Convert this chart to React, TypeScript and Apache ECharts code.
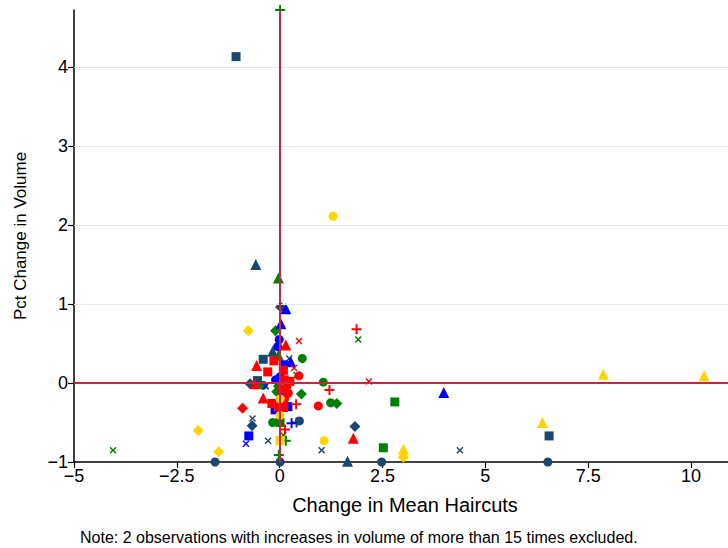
import React, { useEffect, useRef } from "react";
import * as echarts from "echarts";

// ---- data: [change in mean haircuts, pct change in volume] ----
const navyCircle = [[0.48, -0.48], [-1.57, -1.0], [0.01, -1.0], [2.48, -1.0], [6.52, -1.0]];
const navyDiamond = [[0.02, 0.96], [-0.72, -0.01], [-0.67, -0.54], [1.83, -0.55]];
const navyTriangle = [[-0.58, 1.5], [-0.17, 0.4], [1.65, -0.99]];
const navySquare = [[-1.06, 4.13], [-0.4, 0.3], [-0.54, 0.03], [6.55, -0.67]];
const navyPlus = [[0.41, -0.5]];
const navyX = [[0.23, 0.31], [-0.66, -0.45], [-0.28, -0.73], [1.02, -0.85], [4.38, -0.85]];

const greenCircle = [[0.55, 0.31], [-0.4, -0.03], [1.06, 0.01], [1.24, -0.25], [-0.17, -0.5]];
const greenDiamond = [[-0.1, 0.66], [-0.03, -0.04], [-0.07, -0.11], [0.53, -0.14], [1.39, -0.26]];
const greenTriangle = [[-0.03, 1.33], [-0.03, 0.35]];
const greenSquare = [[0.01, -0.5], [2.8, -0.24], [2.52, -0.82]];
const greenPlus = [[0.01, 4.72], [0.15, -0.73], [-0.02, -0.91]];
const greenX = [[1.91, 0.55], [-4.05, -0.85], [0.09, -0.66], [0.41, 0.1]];

const blueCircle = [[-0.01, 0.55], [-0.05, 0.46], [0.01, 0.08], [-0.1, 0.04], [0.05, -0.18]];
const blueTriangle = [[0.15, 0.94], [0.03, 0.75], [0.27, 0.27], [3.99, -0.12]];
const blueSquare = [[0.09, 0.23], [-0.75, -0.67], [-0.11, -0.34], [0.2, -0.3]];
const bluePlus = [[0.29, -0.51]];
const blueX = [[-0.34, -0.04], [-0.82, -0.77]];

const redCircle = [[0.47, 0.09], [0.17, -0.05], [0.21, -0.13], [0.94, -0.29], [0.12, -0.2]];
const redDiamond = [[-0.9, -0.32]];
const redTriangle = [[0.15, 0.48], [-0.56, 0.22], [-0.6, -0.01], [-0.4, -0.19], [1.79, -0.7]];
const redSquare = [[-0.14, 0.28], [0.09, 0.16], [-0.29, 0.14], [0.11, 0.04], [0.25, 0.02], [-0.19, -0.26], [-0.03, -0.3], [0.1, -0.31], [0.05, -0.08]];
const redPlus = [[1.87, 0.68], [1.21, -0.09], [0.4, -0.27], [0.13, -0.59]];
const redX = [[0.47, 0.53], [0.35, 0.19], [2.17, 0.02]];

const yellowCircle = [[1.3, 2.11], [0.01, -0.2], [0.01, -0.41], [1.08, -0.73]];
const yellowDiamond = [[-0.76, 0.66], [-1.98, -0.6], [-1.48, -0.87], [3.01, -0.94]];
const yellowTriangle = [[7.87, 0.11], [10.32, 0.09], [6.39, -0.5], [3.01, -0.84]];
const yellowSquare = [[0.01, -0.73]];

const xTicks = [-5, -2.5, 0, 2.5, 5, 7.5, 10];
const yTicks = [-1, 0, 1, 2, 3, 4];
const gridValues = [1, 2, 3, 4];

const NAVY = "#1a476f";
const GREEN = "#008000";
const BLUE = "#0000ff";
const RED = "#ff0000";
const YELLOW = "#ffd400";
const REFLINE = "#d41f45";

const PLUS = "path://M4,0h2v4h4v2h-4v4h-2v-4h-4v-2h4z";
const XMARK = "path://M1.4,0L5,3.6L8.6,0L10,1.4L6.4,5L10,8.6L8.6,10L5,6.4L1.4,10L0,8.6L3.6,5L0,1.4Z";

const shapes: Record<string, [string, number]> = {
  circle: ["circle", 9],
  diamond: ["diamond", 11],
  triangle: ["triangle", 11],
  square: ["rect", 9],
  plus: [PLUS, 10],
  x: [XMARK, 7],
};

const groups: [string, string, number[][]][] = [
  [NAVY, "circle", navyCircle], [NAVY, "diamond", navyDiamond], [NAVY, "triangle", navyTriangle],
  [NAVY, "square", navySquare], [NAVY, "plus", navyPlus], [NAVY, "x", navyX],
  [GREEN, "circle", greenCircle], [GREEN, "diamond", greenDiamond], [GREEN, "triangle", greenTriangle],
  [GREEN, "square", greenSquare], [GREEN, "plus", greenPlus], [GREEN, "x", greenX],
  [BLUE, "circle", blueCircle], [BLUE, "triangle", blueTriangle], [BLUE, "square", blueSquare],
  [BLUE, "plus", bluePlus], [BLUE, "x", blueX],
  [RED, "circle", redCircle], [RED, "diamond", redDiamond], [RED, "triangle", redTriangle],
  [RED, "square", redSquare], [RED, "plus", redPlus], [RED, "x", redX],
  [YELLOW, "circle", yellowCircle], [YELLOW, "diamond", yellowDiamond], [YELLOW, "triangle", yellowTriangle],
  [YELLOW, "square", yellowSquare],
];

const FONT = "'Liberation Sans', Arial, sans-serif";
const fmt = (v: number) => String(v).replace("-", "\u2212");

export default function App() {
  const ref = useRef<HTMLDivElement>(null);
  useEffect(() => {
    if (!ref.current) return;
    const chart = echarts.init(ref.current, undefined, { renderer: "svg" });
    const series: any[] = [
      {
        type: "scatter",
        data: [],
        z: 1,
        silent: true,
        markLine: {
          silent: true,
          symbol: "none",
          label: { show: false },
          animation: false,
          data: [
            ...gridValues.map((v) => ({ yAxis: v, lineStyle: { color: "#e6e6e6", width: 1, type: "solid" } })),
            { yAxis: 0, lineStyle: { color: REFLINE, width: 2, type: "solid" } },
            { xAxis: 0, lineStyle: { color: REFLINE, width: 2, type: "solid" } },
          ],
        },
      },
      ...groups.map(([color, shape, data]) => ({
        type: "scatter",
        z: 3,
        data,
        symbol: shapes[shape][0],
        symbolSize: shapes[shape][1],
        itemStyle: { color, opacity: 1 },
      })),
    ];
    chart.setOption({
      animation: false,
      backgroundColor: "#ffffff",
      grid: { left: 74, right: 0, top: 10, bottom: 86, containLabel: false },
      xAxis: {
        type: "value",
        min: -5,
        max: 10.9,
        interval: 2.5,
        axisLine: { show: true, onZero: false, lineStyle: { color: "#000", width: 1.5 } },
        axisTick: { show: true, length: 6, customValues: xTicks, lineStyle: { color: "#000", width: 1.2 } },
        axisLabel: {
          customValues: xTicks,
          formatter: (v: number) => fmt(v),
          color: "#000",
          fontFamily: FONT,
          fontSize: 18,
          margin: 5,
        },
        splitLine: { show: false },
      },
      yAxis: {
        type: "value",
        min: -1,
        max: 4.72,
        interval: 1,
        axisLine: { show: true, onZero: false, lineStyle: { color: "#000", width: 1.5 } },
        axisTick: { show: true, length: 6, customValues: yTicks, lineStyle: { color: "#000", width: 1.2 } },
        axisLabel: {
          customValues: yTicks,
          formatter: (v: number) => fmt(v),
          color: "#000",
          fontFamily: FONT,
          fontSize: 18,
          margin: 6,
        },
        splitLine: { show: false },
      },
      graphic: [
        {
          type: "text",
          x: 405,
          y: 505,
          style: {
            text: "Change in Mean Haircuts",
            fontFamily: FONT,
            fontSize: 20,
            fill: "#000",
            textAlign: "center",
            textVerticalAlign: "middle",
          },
        },
        {
          type: "text",
          x: 20,
          y: 236,
          rotation: Math.PI / 2,
          style: {
            text: "Pct Change in Volume",
            fontFamily: FONT,
            fontSize: 17,
            fill: "#000",
            textAlign: "center",
            textVerticalAlign: "middle",
          },
        },
        {
          type: "text",
          x: 80,
          y: 537,
          style: {
            text: "Note: 2 observations with increases in volume of more than 15 times excluded.",
            fontFamily: FONT,
            fontSize: 16,
            fill: "#000",
            textAlign: "left",
            textVerticalAlign: "middle",
          },
        },
      ],
      series,
    });
    return () => chart.dispose();
  }, []);
  return <div ref={ref} style={{ position: "fixed", left: 0, top: 0, width: 728, height: 548 }} />;
}
